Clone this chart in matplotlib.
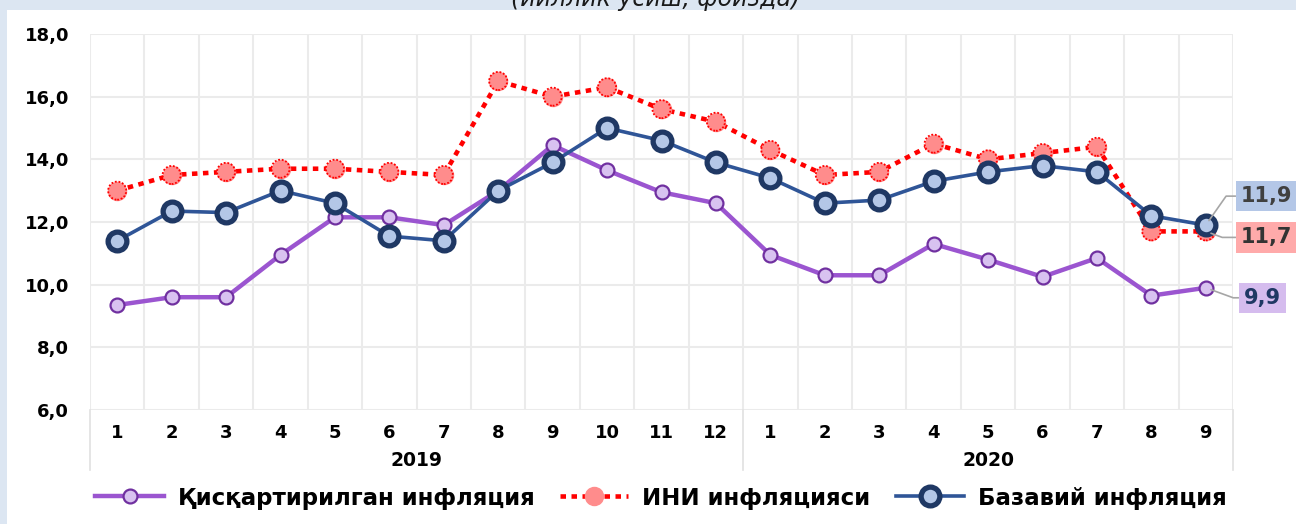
import matplotlib.pyplot as plt
from matplotlib.patches import Rectangle
import matplotlib.transforms as mtransforms

plt.rcParams['font.family'] = ['DejaVu Sans']
plt.rcParams['font.weight'] = 'bold'

# Data
months = ['1', '2', '3', '4', '5', '6', '7', '8', '9', '10', '11', '12',
          '1', '2', '3', '4', '5', '6', '7', '8', '9']
years = ['2019', '2020']
year_len = [12, 9]

reduced = [9.35, 9.6, 9.6, 10.95, 12.15, 12.15, 11.9, 13.0, 14.45, 13.65, 12.95, 12.6,
           10.95, 10.3, 10.3, 11.3, 10.8, 10.25, 10.85, 9.65, 9.9]
cpi = [13.0, 13.5, 13.6, 13.7, 13.7, 13.6, 13.5, 16.5, 16.0, 16.3, 15.6, 15.2,
       14.3, 13.5, 13.6, 14.5, 14.0, 14.2, 14.4, 11.7, 11.7]
core = [11.4, 12.35, 12.3, 13.0, 12.6, 11.55, 11.4, 13.0, 13.9, 15.0, 14.6, 13.9,
        13.4, 12.6, 12.7, 13.3, 13.6, 13.8, 13.6, 12.2, 11.9]

names = ['Қисқартирилган инфляция', 'ИНИ инфляцияси', 'Базавий инфляция']

W, H = 1296, 524
fig = plt.figure(figsize=(W / 100, H / 100), dpi=100)
fig.patch.set_facecolor('white')

# light blue frame strips (top and left)
BG_BLUE = '#DCE6F2'
fig.patches.append(Rectangle((0, 1 - 10 / H), 1, 10 / H, transform=fig.transFigure,
                             facecolor=BG_BLUE, edgecolor='none', zorder=0))
fig.patches.append(Rectangle((0, 0), 7 / W, 1, transform=fig.transFigure,
                             facecolor=BG_BLUE, edgecolor='none', zorder=0))
fig.text(656 / W, 1 - 6 / H, '(йиллик ўсиш, фоизда)', ha='center', va='baseline',
         fontsize=17, style='italic', fontweight='normal', color='#1a1a1a')

ax = fig.add_axes([90 / W, 1 - 410 / H, (1233 - 90) / W, (410 - 34) / H])
x = list(range(1, len(months) + 1))

l1, = ax.plot(x, reduced, color='#9B55D0', lw=3.2, marker='o', ms=10,
              mfc='#D8C2F0', mec='#7030A0', mew=1.6, zorder=3)
l2, = ax.plot(x, cpi, color='#FF0000', lw=3.3, ls=(0, (1.2, 1.2)), marker='o', ms=13,
              mfc='#FF8C8C', mec='#FF8C8C', mew=1.0, zorder=4)
# dotted rim round the CPI markers
ax.scatter(x, cpi, s=13 ** 2, facecolors='none', edgecolors='#FF0000',
           linewidths=1.3, linestyles=(0, (1, 1)), zorder=4.5)
l3, = ax.plot(x, core, color='#2F5597', lw=2.6, marker='o', ms=13.5,
              mfc='#B4C7E7', mec='#1F3864', mew=3.8, zorder=5)

ax.set_xlim(0.5, len(months) + 0.5)
ax.set_ylim(6, 18)
ax.set_yticks(range(6, 19, 2))
ax.set_yticklabels([f'{v:.1f}'.replace('.', ',') for v in range(6, 19, 2)])
ax.set_xticks(x)
ax.set_xticklabels(months)
ax.set_xticks([i + 0.5 for i in range(0, len(months) + 1)], minor=True)
ax.tick_params(axis='both', which='both', length=0)
ax.tick_params(axis='x', pad=10, labelsize=13)
ax.tick_params(axis='y', pad=15, labelsize=13)
ax.grid(axis='y', which='major', color='#EBEBEB', lw=1.5)
ax.grid(axis='x', which='minor', color='#EBEBEB', lw=1.5)
ax.set_axisbelow(True)
for s in ax.spines.values():
    s.set_visible(False)

# year labels and separators under the axis
trans = mtransforms.blended_transform_factory(ax.transData, ax.transAxes)
ax_h = (410 - 34)
start = 0.5
ax.plot([start, start], [0, -60 / ax_h], transform=trans, color='#E0E0E0', lw=1.2, clip_on=False)
for yr, n in zip(years, year_len):
    end = start + n
    ax.text((start + end) / 2, -50 / ax_h, yr, transform=trans, ha='center', va='center',
            fontsize=13.5, fontweight='bold')
    ax.plot([end, end], [0, -60 / ax_h], transform=trans, color='#E0E0E0', lw=1.2, clip_on=False)
    start = end

# end-point value labels
last = len(months)
labels = [(core[-1], '#B4C7E7', '#404040', (35, 29), 'angle,angleA=0,angleB=55'),
          (cpi[-1], '#FFAAAA', '#333333', (35, -6), 'angle,angleA=0,angleB=-20'),
          (reduced[-1], '#D5BCEE', '#1F3864', (38, -10), 'angle,angleA=0,angleB=-20')]
for val, fc, tc, off, cs in labels:
    ax.annotate(f'{val:.1f}'.replace('.', ','), xy=(last, val), xytext=off,
                textcoords='offset pixels', ha='left', va='center', fontsize=15,
                fontweight='bold', color=tc, annotation_clip=False,
                bbox=dict(boxstyle='square,pad=0.25', fc=fc, ec='none'),
                arrowprops=dict(arrowstyle='-', color='#A6A6A6', lw=1.2,
                                shrinkA=0, shrinkB=4, connectionstyle=cs),
                zorder=6)

fig.legend([l1, l2, l3], names, loc='center', bbox_to_anchor=(661 / W, 1 - 498 / H),
           ncol=3, frameon=False, handlelength=3.0, handletextpad=0.6,
           columnspacing=1.1, prop={'weight': 'bold', 'size': 16.5})

fig.savefig('out.png', dpi=100, facecolor='white')
